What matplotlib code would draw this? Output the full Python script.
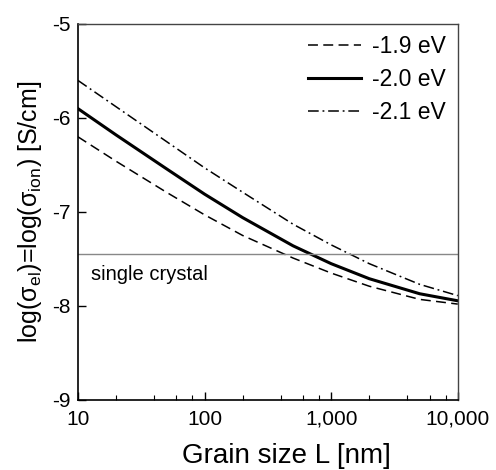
import numpy as np
import matplotlib
matplotlib.use('Agg')
import matplotlib.pyplot as plt
from matplotlib.ticker import FixedLocator, FuncFormatter, LogLocator, NullFormatter

plt.rcParams['font.family'] = ['Liberation Sans', 'DejaVu Sans']
plt.rcParams['mathtext.default'] = 'regular'

# grain size (nm) and log conductivity
grain_size = [10, 20, 50, 100, 200, 500, 1000, 2000, 5000, 10000]
ev_19 = [-6.20, -6.46, -6.79, -7.03, -7.25, -7.49, -7.65, -7.79, -7.93, -7.98]
ev_20 = [-5.90, -6.18, -6.54, -6.81, -7.06, -7.36, -7.55, -7.71, -7.87, -7.945]
ev_21 = [-5.60, -5.88, -6.25, -6.53, -6.79, -7.13, -7.35, -7.55, -7.77, -7.89]
single_crystal = -7.45

fig = plt.figure(figsize=(4.96, 4.70), dpi=100)
ax = fig.add_axes([0.157, 0.149, 0.766, 0.800])

ax.plot(grain_size, ev_19, color='black', lw=1.1, dashes=(6.5, 3.5), label='-1.9 eV')
ax.plot(grain_size, ev_20, color='black', lw=2.2, label='-2.0 eV')
ax.plot(grain_size, ev_21, color='black', lw=1.1, dashes=(7, 2.5, 1.2, 2.5), label='-2.1 eV')
ax.axhline(single_crystal, color='#888888', lw=1.0)
ax.text(12.8, single_crystal - 0.11, 'single crystal', fontsize=14.5, va='top', ha='left')

ax.set_xscale('log')
ax.set_xlim(10, 10000)
ax.set_ylim(-9, -5)
ax.xaxis.set_major_locator(FixedLocator([10, 100, 1000, 10000]))
ax.xaxis.set_major_formatter(FuncFormatter(lambda v, p: f'{v:,.0f}'))
ax.xaxis.set_minor_locator(LogLocator(base=10, subs=[2, 4, 6, 8]))
ax.xaxis.set_minor_formatter(NullFormatter())
ax.set_yticks([-9, -8, -7, -6, -5])
ax.set_yticklabels(['-9', '-8', '-7', '-6', '-5'])

ax.tick_params(which='both', direction='in', top=False, right=False, labelsize=15)
ax.tick_params(which='major', length=6, width=1)
ax.tick_params(which='minor', length=3.5, width=0.8)
ax.tick_params(axis='x', pad=7)
ax.tick_params(axis='y', pad=5)
for s in ['left', 'bottom']:
    ax.spines[s].set_linewidth(1.2)
for s in ['top', 'right']:
    ax.spines[s].set_color('#444444')
    ax.spines[s].set_linewidth(1.0)

ax.set_xlabel('Grain size L [nm]', fontsize=20)
ax.xaxis.set_label_coords(0.55, -0.115)
ax.set_ylabel(r'log(σ$_{el}$)=log(σ$_{ion}$) [S/cm]', fontsize=18, labelpad=6)

ax.legend(loc='upper right', frameon=False, fontsize=16.5, handlelength=2.3,
          labelspacing=0.42, handletextpad=0.5, borderaxespad=0.1)

fig.savefig('out.png', dpi=100)
